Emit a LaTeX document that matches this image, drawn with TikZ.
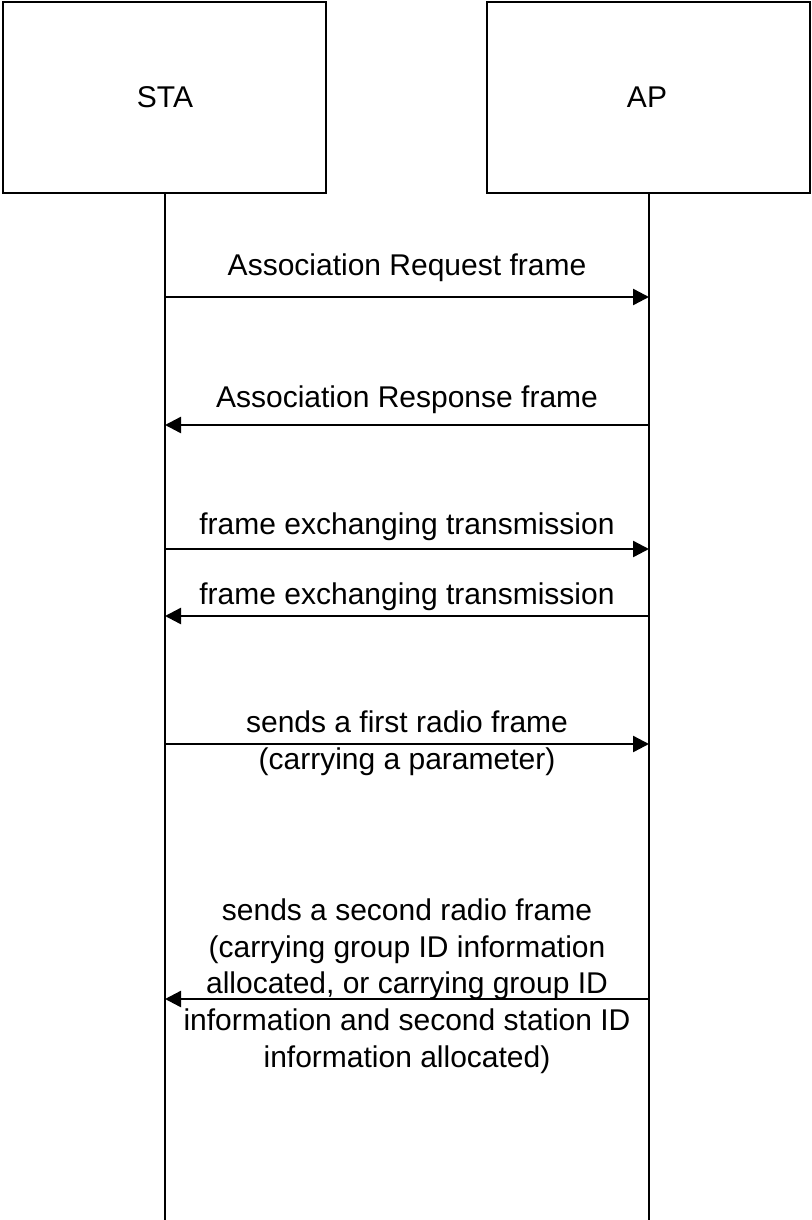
\documentclass[tikz,border=0pt]{standalone}
\usepackage{fontspec}
\setmainfont{Liberation Sans}
\usetikzlibrary{arrows.meta}
\begin{document}
\begin{tikzpicture}[x=0.75pt,y=-0.75pt,
  every node/.style={font=\fontsize{22.5pt}{27.4pt}\selectfont},
  entity/.style={draw,line width=1.8pt,minimum width=242pt,minimum height=143pt,inner sep=0pt},
  lifeline/.style={line width=1.8pt},
  msg/.style={line width=1.8pt,-{Triangle[length=12pt,width=12pt]}},
  lbl/.style={anchor=base,align=center,inner sep=0pt}]
  \useasboundingbox (0,0) rectangle (811,1220);

  % participants
  \node[entity] (sta) at (164.5,97.5) {};
  \node[entity] (ap)  at (648.5,97.5) {};
  \node[anchor=base] (staname) at (165,108) {STA};
  \node[anchor=base] (apname)  at (647,108) {AP};

  % lifelines
  \coordinate (staend) at (165,1220);
  \coordinate (apend)  at (649,1220);
  \draw[lifeline] (sta.south -| staend) -- (staend);
  \draw[lifeline] (ap.south -| apend) -- (apend);

  % message rows
  \foreach \n/\y in {1/297,2/425,3/549,4/616,5/744,6/999}{
    \coordinate (s\n) at (165,\y);
    \coordinate (a\n) at (649,\y);
  }

  \draw[msg] (s1) -- (a1);
  \node[lbl] (l1) at (407,275) {Association Request frame};

  \draw[msg] (a2) -- (s2);
  \node[lbl] (l2) at (407,407) {Association Response frame};

  \draw[msg] (s3) -- (a3);
  \node[lbl] (l3) at (407,534) {frame exchanging transmission};

  \draw[msg] (a4) -- (s4);
  \node[lbl] (l4) at (407,604) {frame exchanging transmission};

  % multi-line labels are placed by the baseline of their last line
  \draw[msg] (s5) -- (a5);
  \node[lbl] (l5) at (407,769)
    {sends a first radio frame\\(carrying a parameter)};

  \draw[msg] (a6) -- (s6);
  \node[lbl] (l6) at (407,1067)
    {sends a second radio frame\\(carrying group ID information\\allocated, or carrying group ID\\information and second station ID\\information allocated)};
\end{tikzpicture}
\end{document}
